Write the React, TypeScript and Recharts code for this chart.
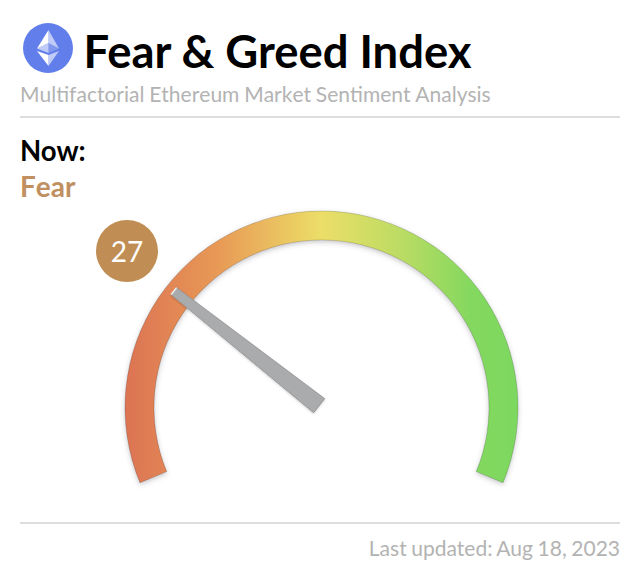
import { PieChart, Pie, Cell } from "recharts";

const WIDTH = 640;
const HEIGHT = 570;

const title = "Fear & Greed Index";
const subtitle = "Multifactorial Ethereum Market Sentiment Analysis";
const nowLabel = "Now:";
const sentiment = "Fear";
const updated = "Last updated: Aug 18, 2023";

const indexValue = 27;
const gaugeTrack = [{ name: "track", value: 100 }];
const needleParts = [
  { name: "value", value: indexValue },
  { name: "rest", value: 100 - indexValue },
];

const gradientOffsets = ["0%", "24%", "50%", "70%", "88%", "100%"];
const gradientColors = ["#dc7353", "#e89a56", "#ecde68", "#bcdc63", "#84d85f", "#7dd85e"];

const CX = 321.5;
const CY = 407.5;
const RAD = Math.PI / 180;

const polar = (r: number, deg: number, side = 0) => {
  const a = deg * RAD;
  return [
    CX + r * Math.cos(a) + side * Math.sin(a),
    CY - r * Math.sin(a) + side * Math.cos(a),
  ];
};

// the needle hangs off the end angle of the "value" slice
const renderNeedle = (props: any) => {
  if (props.index !== 0) return null;
  const angle = props.endAngle;
  const pts = [
    polar(188, angle, -4.4),
    polar(188, angle, 4.4),
    polar(3, angle, 8.9),
    polar(3, angle, -8.9),
  ];
  const tipA = polar(188, angle, -4.4);
  const tipB = polar(188, angle, 4.4);
  return (
    <g>
      <polygon
        points={pts.map((p) => p.join(",")).join(" ")}
        fill="#aaabad"
        stroke="#98989a"
        strokeWidth={1}
        strokeLinejoin="round"
        filter="url(#needleShadow)"
      />
      <line
        x1={tipA[0]}
        y1={tipA[1]}
        x2={tipB[0]}
        y2={tipB[1]}
        stroke="#f1f1f1"
        strokeWidth={1.5}
      />
    </g>
  );
};

const text = (
  top: number,
  size: number,
  color: string,
  bold = false
): React.CSSProperties => ({
  position: "absolute",
  left: 20,
  top,
  fontSize: size,
  lineHeight: 1,
  color,
  fontWeight: bold ? 700 : 400,
  whiteSpace: "nowrap",
});

export default function App() {
  return (
    <div
      style={{
        position: "fixed",
        left: 0,
        top: 0,
        width: WIDTH,
        height: HEIGHT,
        background: "#fff",
        fontFamily: "Lato, sans-serif",
        overflow: "hidden",
      }}
    >
      <div style={{ position: "absolute", left: 0, top: 0 }}>
        <PieChart
          width={WIDTH}
          height={HEIGHT}
          margin={{ top: 0, right: 0, bottom: 0, left: 0 }}
        >
          <defs>
            <linearGradient id="gaugeFill" x1="0" y1="0" x2="1" y2="0">
              {gradientOffsets.map((o, i) => (
                <stop key={o} offset={o} stopColor={gradientColors[i]} />
              ))}
            </linearGradient>
            <filter id="arcShadow" x="-10%" y="-10%" width="120%" height="120%">
              <feDropShadow dx="0" dy="2" stdDeviation="2.5" floodColor="#445" floodOpacity="0.3" />
            </filter>
            <filter id="needleShadow" x="-10%" y="-10%" width="120%" height="120%">
              <feDropShadow dx="0" dy="1" stdDeviation="1" floodColor="#000" floodOpacity="0.2" />
            </filter>
          </defs>
          <Pie
            data={gaugeTrack}
            dataKey="value"
            cx={CX}
            cy={CY}
            startAngle={202.5}
            endAngle={-22.5}
            innerRadius={167.5}
            outerRadius={196.5}
            stroke="#000"
            strokeOpacity={0.22}
            strokeWidth={0.75}
            isAnimationActive={false}
            style={{ filter: "url(#arcShadow)" }}
          >
            <Cell fill="url(#gaugeFill)" />
          </Pie>
          <Pie
            data={needleParts}
            dataKey="value"
            cx={CX}
            cy={CY}
            startAngle={202.5}
            endAngle={-22.5}
            innerRadius={0}
            outerRadius={190}
            fill="none"
            stroke="none"
            label={renderNeedle}
            labelLine={false}
            isAnimationActive={false}
          />
        </PieChart>
      </div>

      <svg width={50} height={50} style={{ position: "absolute", left: 23, top: 23 }} viewBox="0 0 50 50">
        <circle cx={25} cy={25} r={25} fill="#627eea" />
        <polygon points="25.5,7 25.5,20 36,25.5" fill="#fff" fillOpacity={0.6} />
        <polygon points="25.5,7 14,25.5 25.5,20" fill="#fff" />
        <polygon points="25.5,32 25.5,43 36,28" fill="#fff" fillOpacity={0.6} />
        <polygon points="25.5,32 14,28 25.5,43" fill="#fff" />
        <polygon points="25.5,30 36,25.5 25.5,20" fill="#fff" fillOpacity={0.2} />
        <polygon points="14,25.5 25.5,30 25.5,20" fill="#fff" fillOpacity={0.6} />
      </svg>

      <div style={text(28, 45.4, "#000", true)}>
        <span style={{ marginLeft: 63.5 }}>{title}</span>
      </div>
      <div style={{ ...text(83, 21, "#b3b3b3"), fontKerning: "none", wordSpacing: -0.6 }}>{subtitle}</div>
      <div style={{ position: "absolute", left: 20, top: 116, width: 600, height: 2, background: "#ddd" }} />
      <div style={text(137, 27.6, "#000", true)}>{nowLabel}</div>
      <div style={{ ...text(172, 28, "#c09060", true), fontKerning: "none" }}>{sentiment}</div>

      <div
        style={{
          position: "absolute",
          left: 96,
          top: 220,
          width: 62,
          height: 62,
          borderRadius: "50%",
          background: "#c08e55",
          color: "#fff",
          fontSize: 28,
          lineHeight: "62px",
          textAlign: "center",
        }}
      >
        {indexValue}
      </div>

      <div style={{ position: "absolute", left: 20, top: 522, width: 600, height: 2, background: "#ddd" }} />
      <div
        style={{
          position: "absolute",
          right: 20,
          top: 537,
          fontSize: 21,
          lineHeight: 1,
          color: "#b3b3b3",
          whiteSpace: "nowrap",
          wordSpacing: -0.75,
        }}
      >
        {updated}
      </div>
    </div>
  );
}
